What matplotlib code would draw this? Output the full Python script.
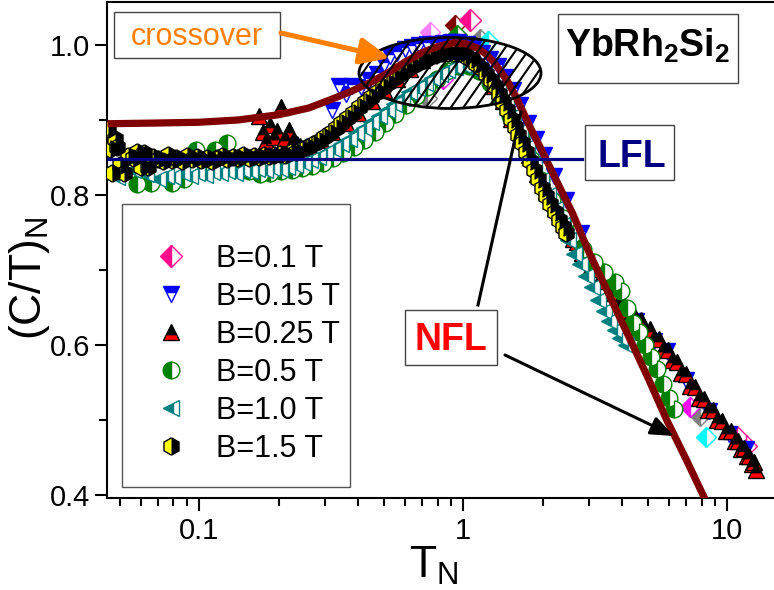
import matplotlib
matplotlib.use("Agg")
import matplotlib.pyplot as plt
from matplotlib.patches import Rectangle, Ellipse, FancyArrowPatch
from matplotlib.lines import Line2D
from matplotlib.transforms import Affine2D
from matplotlib.ticker import FixedLocator, FixedFormatter, LogLocator, NullFormatter
import numpy as np

plt.rcParams['font.family'] = ['Liberation Sans', 'DejaVu Sans']
plt.rcParams['mathtext.fontset'] = 'custom'
plt.rcParams['mathtext.rm'] = 'Liberation Sans'
plt.rcParams['mathtext.it'] = 'Liberation Sans:italic'
plt.rcParams['mathtext.bf'] = 'Liberation Sans:bold'

# ---------------- data: normalized specific heat (C/T)_N vs T_N ----------------
b01_T = [1.06, 10.9, 11.8]
b01_C = [1.033, 0.478, 0.466]

b015_T = [0.32, 0.34, 0.36, 0.38, 0.41, 0.44, 0.47, 0.50, 0.53, 0.56,
          0.60, 0.64, 0.68, 0.73, 0.78, 0.84, 0.90, 0.96, 1.03, 1.10,
          1.18, 1.26, 1.35, 1.44, 1.54, 1.64, 1.76, 1.88, 2.02, 2.20,
          2.45, 2.80, 3.25, 3.80, 4.50, 5.30, 5.90, 7.00, 8.50, 10.2,
          11.8]
b015_C = [0.913, 0.945, 0.935, 0.946, 0.944, 0.953, 0.962, 0.975, 0.985, 0.990,
          0.995, 0.998, 1.000, 1.001, 1.002, 1.003, 1.004, 1.004, 1.002, 0.998,
          0.990, 0.981, 0.972, 0.957, 0.940, 0.920, 0.896, 0.875, 0.854, 0.826,
          0.794, 0.749, 0.698, 0.655, 0.632, 0.606, 0.592, 0.553, 0.512, 0.482,
          0.462]

b025_T = [0.168, 0.174, 0.180, 0.186, 0.192, 0.198, 0.205, 0.212, 0.219, 0.226,
          0.234, 0.242, 0.26, 0.29, 0.32, 0.36, 0.40, 0.45, 0.50, 0.56,
          0.63, 0.70, 0.78, 0.87, 0.96, 1.05, 1.13, 1.22, 1.31, 1.41,
          1.52, 1.64, 1.77, 1.91, 2.06, 2.14, 2.22, 2.31, 2.40, 2.50,
          2.60, 2.71, 2.82, 2.93, 3.05, 3.17, 3.30, 3.43, 3.57, 3.71,
          3.86, 4.02, 4.18, 4.35, 4.52, 4.70, 4.89, 5.09, 5.29, 5.50,
          5.72, 5.95, 6.19, 6.44, 6.69, 6.96, 7.24, 7.53, 7.83, 8.14,
          8.47, 8.81, 9.16, 9.53, 9.91, 10.3, 10.7, 11.0, 11.3, 11.6,
          11.9, 12.1, 12.4, 12.6, 12.8]
b025_C = [0.905, 0.884, 0.872, 0.893, 0.878, 0.886, 0.918, 0.876, 0.887, 0.872,
          0.868, 0.866, 0.866, 0.874, 0.884, 0.896, 0.910, 0.925, 0.940, 0.955,
          0.968, 0.980, 0.990, 0.996, 0.998, 0.992, 0.981, 0.965, 0.946, 0.925,
          0.902, 0.878, 0.853, 0.828, 0.805, 0.800, 0.783, 0.778, 0.762, 0.757,
          0.742, 0.738, 0.723, 0.720, 0.705, 0.702, 0.688, 0.686, 0.672, 0.670,
          0.656, 0.656, 0.645, 0.646, 0.634, 0.634, 0.622, 0.622, 0.609, 0.608,
          0.595, 0.594, 0.580, 0.578, 0.563, 0.561, 0.546, 0.544, 0.530, 0.528,
          0.514, 0.513, 0.500, 0.499, 0.486, 0.485, 0.472, 0.472, 0.462, 0.463,
          0.452, 0.452, 0.442, 0.444, 0.434]

b05_T = [0.050, 0.058, 0.066, 0.079, 0.088, 0.097, 0.106, 0.115, 0.128, 0.140,
         0.155, 0.170, 0.186, 0.204, 0.224, 0.245, 0.268, 0.294, 0.322, 0.352,
         0.386, 0.422, 0.462, 0.506, 0.554, 0.607, 0.664, 0.727, 0.796, 0.872,
         0.955, 1.05, 1.15, 1.26, 1.38, 1.51, 1.65, 1.81, 1.98, 2.17,
         2.38, 2.60, 2.85, 3.12, 3.42, 3.75, 3.95, 4.17, 4.40, 4.65,
         4.90, 5.15, 5.40, 5.70, 6.00, 6.30]
b05_C = [0.832, 0.815, 0.816, 0.816, 0.822, 0.860, 0.835, 0.860, 0.869, 0.848,
         0.832, 0.828, 0.830, 0.832, 0.834, 0.836, 0.839, 0.843, 0.849, 0.856,
         0.864, 0.873, 0.884, 0.896, 0.908, 0.920, 0.932, 0.944, 0.955, 0.965,
         0.972, 0.972, 0.965, 0.950, 0.930, 0.905, 0.877, 0.848, 0.820, 0.794,
         0.770, 0.748, 0.728, 0.711, 0.697, 0.684, 0.672, 0.650, 0.630, 0.618,
         0.600, 0.584, 0.568, 0.548, 0.530, 0.515]

b10_T = [0.049, 0.056, 0.063, 0.070, 0.075, 0.080, 0.086, 0.092, 0.098, 0.105,
         0.112, 0.120, 0.128, 0.137, 0.146, 0.156, 0.166, 0.177, 0.189, 0.202,
         0.216, 0.231, 0.247, 0.264, 0.282, 0.301, 0.322, 0.344, 0.368, 0.393,
         0.420, 0.449, 0.480, 0.513, 0.548, 0.586, 0.626, 0.669, 0.715, 0.764,
         0.816, 0.872, 0.932, 0.996, 1.06, 1.13, 1.20, 1.28, 1.36, 1.45,
         1.54, 1.64, 1.74, 1.85, 1.97, 2.09, 2.22, 2.36, 2.50, 2.64,
         2.78, 2.93, 3.08, 3.24, 3.40, 3.57, 3.75, 3.94, 4.12]
b10_C = [0.824, 0.833, 0.828, 0.822, 0.826, 0.824, 0.829, 0.826, 0.830, 0.827,
         0.831, 0.829, 0.832, 0.830, 0.834, 0.832, 0.835, 0.833, 0.836, 0.835,
         0.838, 0.840, 0.843, 0.847, 0.851, 0.856, 0.862, 0.868, 0.875, 0.883,
         0.890, 0.898, 0.906, 0.914, 0.922, 0.930, 0.937, 0.943, 0.950, 0.956,
         0.962, 0.967, 0.971, 0.973, 0.970, 0.966, 0.960, 0.950, 0.938, 0.922,
         0.905, 0.885, 0.864, 0.842, 0.820, 0.800, 0.782, 0.760, 0.740, 0.722,
         0.708, 0.692, 0.677, 0.660, 0.645, 0.632, 0.620, 0.609, 0.600]

b15_T = [0.045, 0.046, 0.047, 0.048, 0.049, 0.050, 0.052, 0.054, 0.056, 0.058,
         0.060, 0.062, 0.064, 0.067, 0.070, 0.073, 0.076, 0.079, 0.082, 0.086,
         0.090, 0.094, 0.098, 0.102, 0.107, 0.112, 0.117, 0.122, 0.128, 0.134,
         0.140, 0.147, 0.154, 0.161, 0.168, 0.176, 0.184, 0.193, 0.202, 0.212,
         0.222, 0.233, 0.245, 0.257, 0.270, 0.284, 0.298, 0.313, 0.329, 0.346,
         0.364, 0.383, 0.403, 0.424, 0.446, 0.470, 0.495, 0.521, 0.549, 0.578,
         0.609, 0.641, 0.675, 0.711, 0.749, 0.789, 0.831, 0.875, 0.921, 0.970,
         1.02, 1.07, 1.12, 1.17, 1.22, 1.27, 1.32, 1.37, 1.42, 1.47,
         1.52, 1.57, 1.62, 1.67, 1.73, 1.79, 1.85, 1.92, 1.99, 2.06,
         2.14, 2.22, 2.30, 2.38, 2.46]
b15_C = [0.888, 0.862, 0.829, 0.875, 0.864, 0.840, 0.829, 0.852, 0.850, 0.858,
         0.838, 0.856, 0.837, 0.851, 0.848, 0.845, 0.853, 0.847, 0.849, 0.846,
         0.852, 0.848, 0.851, 0.847, 0.850, 0.846, 0.849, 0.852, 0.848, 0.851,
         0.849, 0.853, 0.850, 0.852, 0.851, 0.854, 0.852, 0.853, 0.855, 0.853,
         0.857, 0.858, 0.861, 0.864, 0.868, 0.872, 0.877, 0.883, 0.889, 0.896,
         0.903, 0.910, 0.917, 0.924, 0.931, 0.937, 0.944, 0.950, 0.956, 0.962,
         0.967, 0.972, 0.976, 0.980, 0.984, 0.987, 0.989, 0.990, 0.990, 0.989,
         0.986, 0.981, 0.975, 0.969, 0.962, 0.954, 0.945, 0.935, 0.924, 0.913,
         0.902, 0.891, 0.880, 0.869, 0.857, 0.845, 0.834, 0.822, 0.810, 0.799,
         0.788, 0.777, 0.767, 0.758, 0.750]

# additional field runs shown without legend entries
extra_T = [0.75, 0.93, 0.95, 1.16, 0.73, 7.9, 1.24, 8.3, 0.84, 7.2]
extra_C = [1.017, 1.027, 1.013, 1.008, 0.930, 0.505, 1.005, 0.478, 0.955, 0.518]
extra_colors = ['#FF80FF', '#800000', '#008000', '#808080', '#808080', '#808080',
                '#00FFFF', '#00FFFF', '#FF00FF', '#FF00FF']

# theoretical NFL curve
theory_T = [0.045, 0.07, 0.10, 0.14, 0.20, 0.26, 0.314, 0.37, 0.445, 0.52,
            0.60, 0.70, 0.80, 0.92, 1.02, 1.13, 1.22, 1.30, 1.38, 1.47,
            1.60, 1.79, 2.00, 2.30, 2.60, 3.00, 3.40, 3.90, 4.40, 5.00,
            5.90, 7.00, 8.30, 9.00]
theory_C = [0.895, 0.896, 0.897, 0.900, 0.907, 0.916, 0.927, 0.937, 0.950, 0.963,
            0.977, 0.990, 0.998, 1.003, 1.002, 0.996, 0.988, 0.978, 0.966, 0.952,
            0.928, 0.891, 0.857, 0.813, 0.775, 0.723, 0.683, 0.638, 0.599, 0.557,
            0.500, 0.447, 0.392, 0.365]

lfl_level = 0.848
lfl_T_end = 2.82

x_ticks = [0.1, 1, 10]
x_ticklabels = ['0.1', '1', '10']
y_ticks = [0.4, 0.6, 0.8, 1.0]
y_ticklabels = ['0.4', '0.6', '0.8', '1.0']

# ---------------- figure ----------------
W, H = 774, 590
fig = plt.figure(figsize=(W / 100, H / 100), dpi=100)
# pixel transform with origin at top-left, used for annotation layout
px = Affine2D().scale(1 / W, -1 / H).translate(0, 1) + fig.transFigure

ax_l, ax_r, ax_t, ax_b = 107, 776, 1.5, 498
ax = fig.add_axes([ax_l / W, 1 - ax_b / H, (ax_r - ax_l) / W, (ax_b - ax_t) / H])
ax.set_xscale('log')
ax.set_xlim(0.0448, 15.3)
ax.set_ylim(0.396, 1.058)

series = [
    (b01_T, b01_C, 'B=0.1 T', 11, dict(marker='D', fillstyle='left', markerfacecolor='#FF0A8C',
                                        markerfacecoloralt='white', markeredgecolor='#FF0A8C')),
    (b015_T, b015_C, 'B=0.15 T', 12, dict(marker='v', fillstyle='top', markerfacecolor='#0000FF',
                                          markerfacecoloralt='white', markeredgecolor='#0000FF')),
    (b025_T, b025_C, 'B=0.25 T', 12, dict(marker='^', fillstyle='bottom', markerfacecolor='#FF0000',
                                          markerfacecoloralt='black', markeredgecolor='black')),
    (b05_T, b05_C, 'B=0.5 T', 12, dict(marker='o', fillstyle='left', markerfacecolor='#008000',
                                        markerfacecoloralt='white', markeredgecolor='#008000')),
    (b10_T, b10_C, 'B=1.0 T', 12, dict(marker='<', fillstyle='left', markerfacecolor='#008080',
                                        markerfacecoloralt='white', markeredgecolor='#008080')),
    (b15_T, b15_C, 'B=1.5 T', 12.5, dict(marker='h', fillstyle='left', markerfacecolor='#FFFF00',
                                          markerfacecoloralt='black', markeredgecolor='black')),
]

for T, C, col in zip(extra_T, extra_C, extra_colors):
    ax.plot([T], [C], ls='none', marker='D', fillstyle='left', markerfacecolor=col,
            markerfacecoloralt='white', markeredgecolor=col, markersize=10, zorder=2.5)

handles = []
for i, (T, C, lab, ms, st) in enumerate(series):
    h, = ax.plot(T, C, ls='none', markersize=ms, markeredgewidth=1.0, label=lab,
                 zorder=3 + 0.1 * i, **st)
    handles.append(h)

# theory curve and LFL level
ax.plot(theory_T, theory_C, color='#800000', lw=5.2, zorder=4, solid_capstyle='butt')
ax.plot([ax.get_xlim()[0], lfl_T_end], [lfl_level, lfl_level], color='#000080', lw=2.3, zorder=4.2)

# axes styling
for s in ax.spines.values():
    s.set_linewidth(1.5)
ax.xaxis.set_major_locator(FixedLocator(x_ticks))
ax.xaxis.set_major_formatter(FixedFormatter(x_ticklabels))
ax.xaxis.set_minor_locator(LogLocator(base=10, subs=np.arange(2, 10)))
ax.xaxis.set_minor_formatter(NullFormatter())
ax.yaxis.set_major_locator(FixedLocator(y_ticks))
ax.yaxis.set_major_formatter(FixedFormatter(y_ticklabels))
ax.yaxis.set_minor_locator(FixedLocator([0.5, 0.7, 0.9]))
ax.tick_params(which='major', direction='out', length=9, width=1.5, labelsize=21, pad=3)
ax.tick_params(which='minor', direction='out', length=5.5, width=1.5)
ax.tick_params(axis='x', which='major', pad=5)

ax.set_xlabel(r'$\mathregular{T_N}$', fontsize=32)
ax.set_ylabel(r'$\mathregular{(C/T)_N}$', fontsize=32)
ax.xaxis.set_label_coords((434 - ax_l) / (ax_r - ax_l), (ax_b - 545) / (ax_b - ax_t))
ax.yaxis.set_label_coords((52 - ax_l) / (ax_r - ax_l), (ax_b - 278) / (ax_b - ax_t))

# legend with its own frame
ax.add_patch(Rectangle((122, 204), 228, 283, transform=px, facecolor='white',
                       edgecolor='#555555', lw=1.0, zorder=6, clip_on=False))
leg = ax.legend(handles=handles, loc='upper left', bbox_to_anchor=(156, 244), bbox_transform=px,
                frameon=False, fontsize=22, handlelength=1.0, handletextpad=0.97,
                labelspacing=0.26, borderpad=0, borderaxespad=0, numpoints=1)
leg.set_zorder(7)


def boxed_text(x0, y0, x1, y1, tx, ty, s, **kw):
    ax.add_patch(Rectangle((x0, y0), x1 - x0, y1 - y0, transform=px, facecolor='white',
                           edgecolor='#444444', lw=1.0, zorder=9, clip_on=False))
    ax.text(tx, ty, s, transform=px, ha='center', va='baseline', zorder=10, clip_on=False, **kw)


boxed_text(114, 12, 280, 58, 197, 45, 'crossover', fontsize=22, color='#FF8000')
boxed_text(558, 14, 738, 83, 648, 57, r'$\mathbf{YbRh_2Si_2}$', fontsize=27, color='black')
boxed_text(585, 125, 674, 180, 632, 167, 'LFL', fontsize=27, fontweight='bold', color='#000080')
boxed_text(405, 310, 497, 365, 451, 350, 'NFL', fontsize=27, fontweight='bold', color='#FF0000')

# hatched crossover region
ell = Ellipse((450, 73), 182, 71, transform=px, fill=False, edgecolor='black', lw=2.0,
              zorder=8, clip_on=False)
ax.add_patch(ell)
ang = np.deg2rad(55)
dx, dy = np.cos(ang), -np.sin(ang)
for k in range(-12, 13):
    cx = 450 + 12.5 * k
    ln = Line2D([cx - 80 * dx, cx + 80 * dx], [73 - 80 * dy, 73 + 80 * dy], transform=px,
                color='black', lw=1.5, zorder=7.9)
    ax.add_line(ln)
    ln.set_clip_path(ell)

# arrows
ax.add_patch(FancyArrowPatch((281, 33), (390, 58), transform=px, color='#FF8000', lw=3.6,
                             arrowstyle='-|>,head_length=0.9,head_width=0.4', mutation_scale=20,
                             shrinkA=0, shrinkB=0, zorder=9, clip_on=False))
ax.add_line(Line2D([478, 521], [305, 112], transform=px, color='black', lw=2.2, zorder=8.5))
ax.add_patch(FancyArrowPatch((505, 355), (674, 436), transform=px, color='black', lw=2.2,
                             arrowstyle='-|>,head_length=0.7,head_width=0.28', mutation_scale=20,
                             shrinkA=0, shrinkB=0, zorder=8.5, clip_on=False))

fig.savefig('out.png', dpi=100)
